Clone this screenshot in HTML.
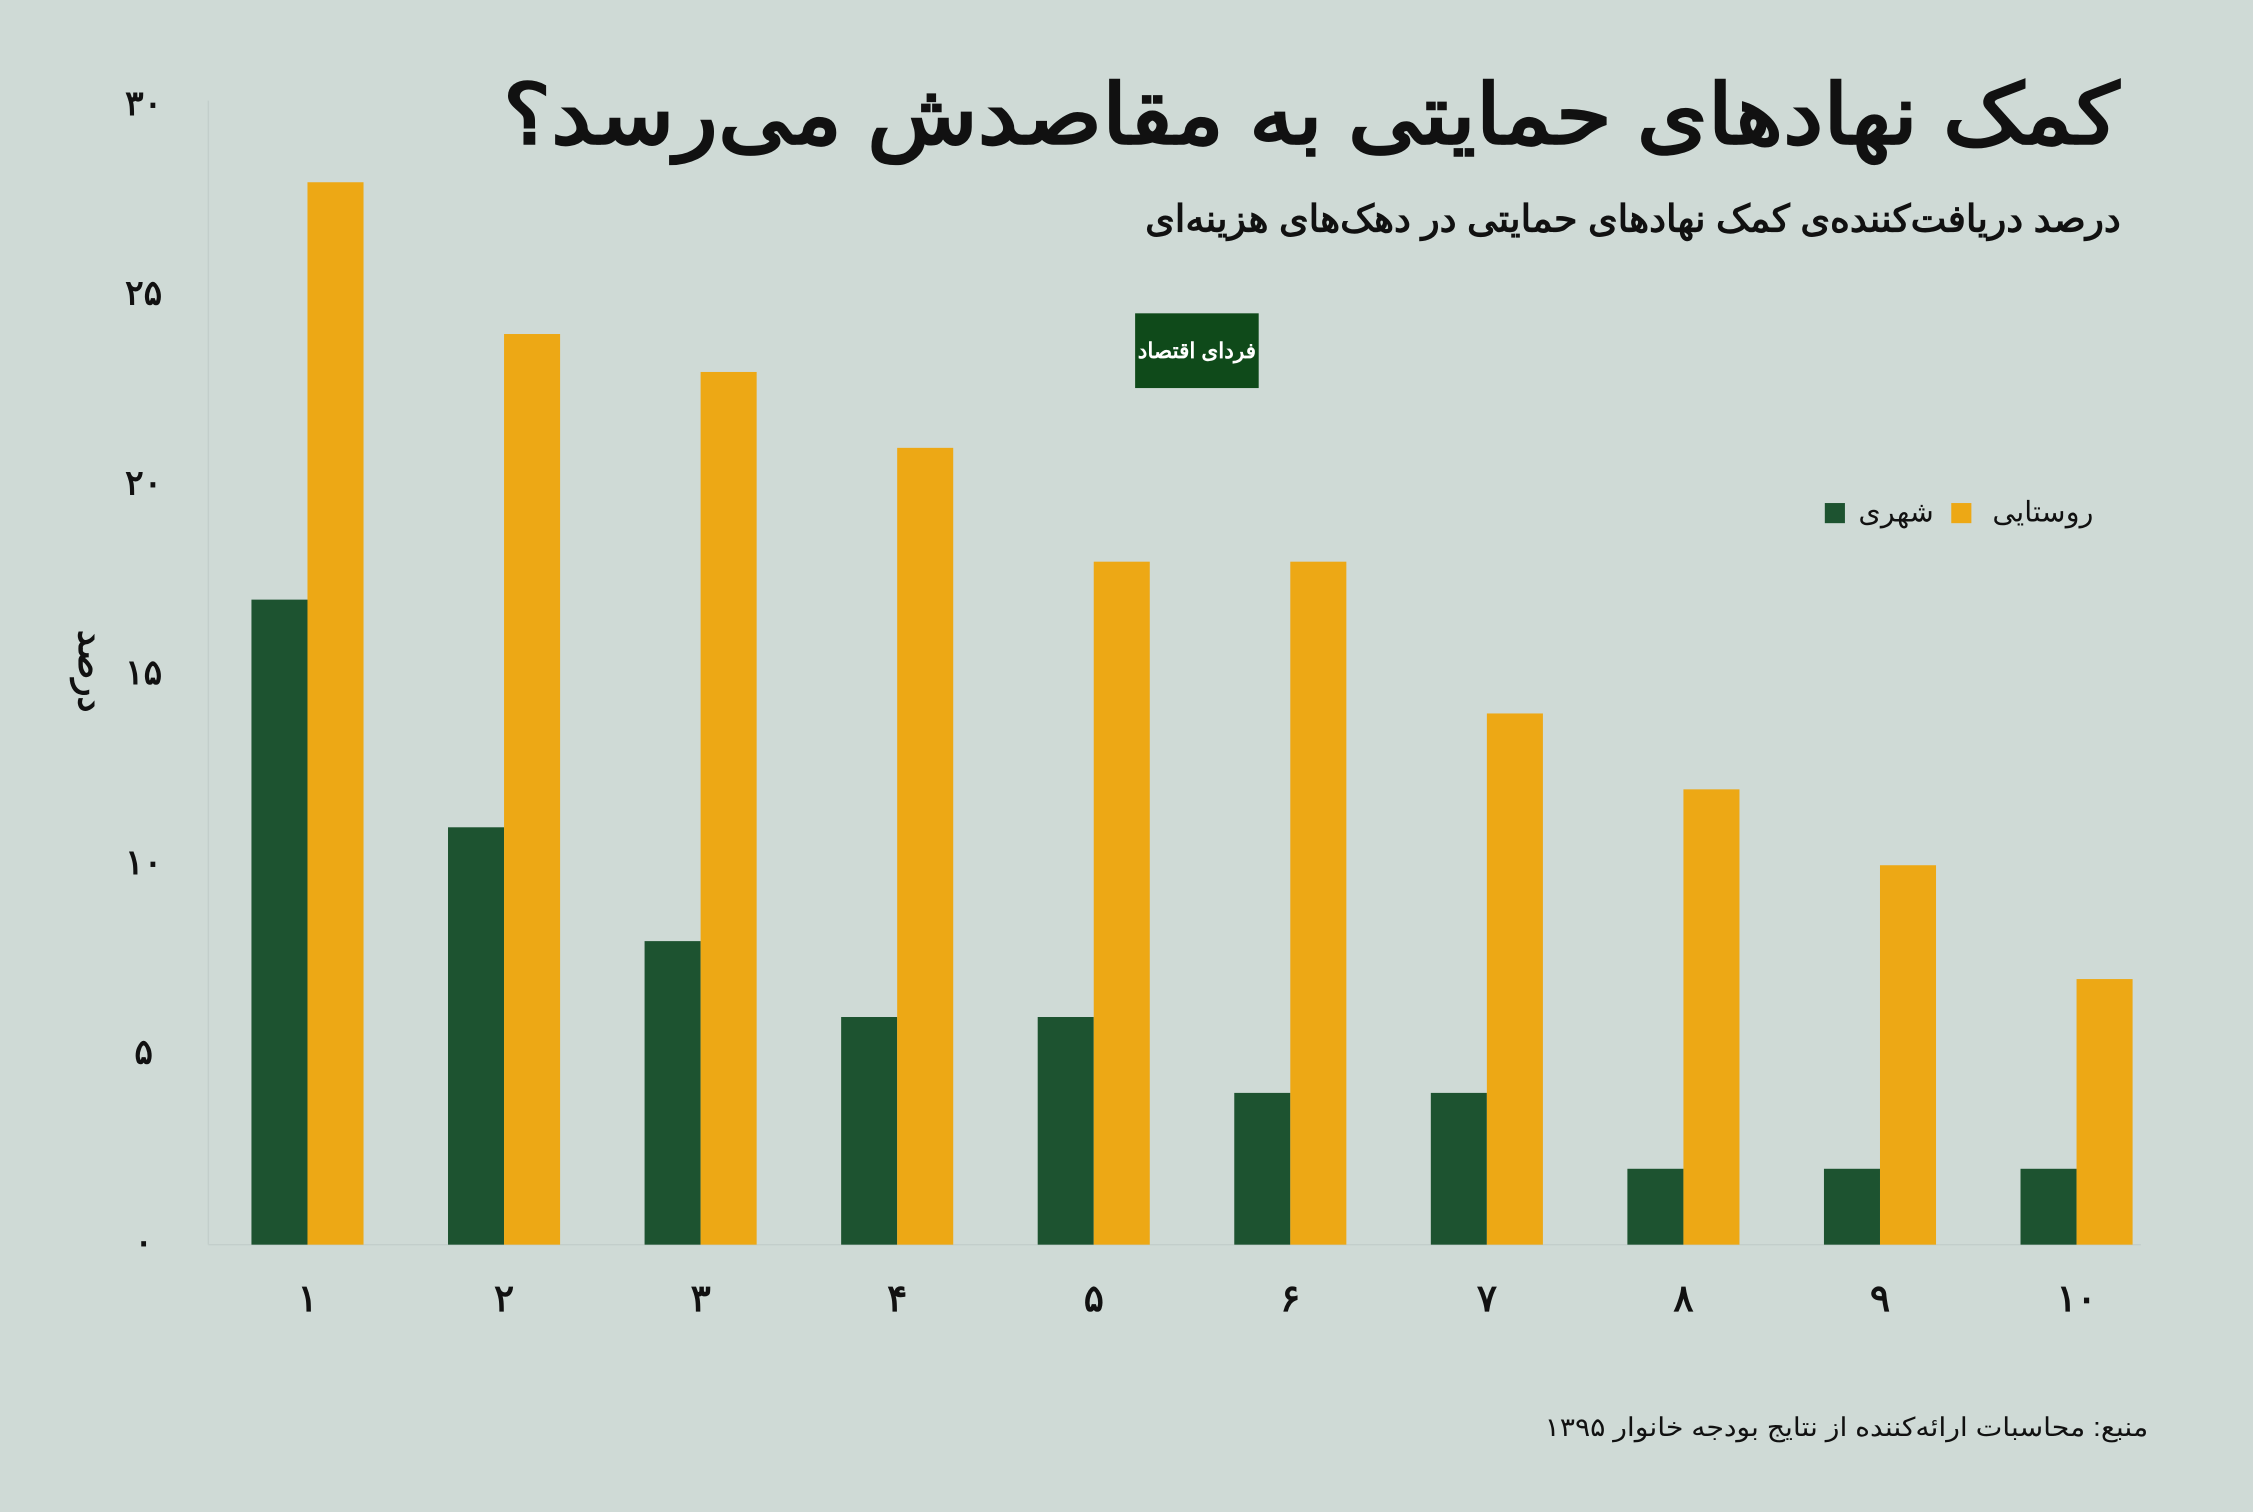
<!DOCTYPE html>
<html><head><meta charset="utf-8"><style>
html,body{margin:0;padding:0;background:#cfdad6;}
svg{display:block;}
text{font-family:"Liberation Sans","Noto Sans CJK SC",sans-serif;}
</style></head><body>
<svg id="chart" width="2253" height="1512" viewBox="0 0 1568 1052" preserveAspectRatio="none" xmlns="http://www.w3.org/2000/svg">
<rect x="0" y="0" width="1568" height="1052" fill="#cfdad6"/>
<text x="350" y="100" textLength="1125" lengthAdjust="spacingAndGlyphs" font-size="58" font-weight="bold" fill="#111">کمک نهادهای حمایتی به مقاصدش می‌رسد؟</text>
<text x="797" y="161" textLength="679" lengthAdjust="spacingAndGlyphs" font-size="26" font-weight="bold" fill="#111">درصد دریافت‌کننده‌ی کمک نهادهای حمایتی در دهک‌های هزینه‌ای</text>
<g>
<rect x="790" y="218" width="86" height="52" fill="#0f4a1a"/>
<text x="833" y="249" text-anchor="middle" font-size="15" font-weight="bold" fill="#fff">فردای اقتصاد</text>
</g>
<line x1="145" y1="70" x2="145" y2="866" stroke="#c3cecb" stroke-width="1"/>
<line x1="145" y1="866" x2="1490" y2="866" stroke="#c3cecb" stroke-width="1"/>
<text transform="translate(55,467) rotate(90)" text-anchor="middle" font-size="25" font-weight="bold" fill="#111">درصد</text>
<g id="yticks"></g>
<g id="bars"></g>
<g id="xlabels"></g>
<g>
<rect x="1358" y="350" width="14" height="14" fill="#eda815"/>
<text x="1457" y="363" text-anchor="end" font-size="20" fill="#111">روستایی</text>
<rect x="1270" y="350" width="14" height="14" fill="#1d5330"/>
<text x="1346" y="363" text-anchor="end" font-size="20" fill="#111">شهری</text>
</g>
<text x="1075" y="999" textLength="420" lengthAdjust="spacingAndGlyphs" font-size="18" fill="#111">منبع: محاسبات ارائه‌کننده از نتایج بودجه خانوار ۱۳۹۵</text>
</svg>
<script>
const categories = ['۱','۲','۳','۴','۵','۶','۷','۸','۹','۱۰'];
const urbanValues = [17, 11, 8, 6, 6, 4, 4, 2, 2, 2];
const ruralValues = [28, 24, 23, 21, 18, 18, 14, 12, 10, 7];
const yTickValues = [0, 5, 10, 15, 20, 25, 30];
const yTickLabels = ['۰','۵','۱۰','۱۵','۲۰','۲۵','۳۰'];

const NS = 'http://www.w3.org/2000/svg';
const y0 = 866, yTop = 74, yMax = 30;
function yScale(v){ return y0 - (v / yMax) * (y0 - yTop); }
const groupStart = 175, groupStep = 136.8, barW = 39;
function xScale(i){ return groupStart + i * groupStep; }

const yt = document.getElementById('yticks');
yTickValues.forEach((v, i) => {
  const t = document.createElementNS(NS, 'text');
  
  
  t.setAttribute('x', 100);
  t.setAttribute('y', yScale(v) + 6);
  t.setAttribute('text-anchor', 'middle');
  t.setAttribute('font-size', '24');
  t.setAttribute('font-weight', 'bold');
  t.setAttribute('fill', '#111');
  t.textContent = yTickLabels[i];
  yt.appendChild(t);
});

const bars = document.getElementById('bars');
const xl = document.getElementById('xlabels');
categories.forEach((c, i) => {
  const x = xScale(i);
  const g = document.createElementNS(NS, 'rect');
  
  
  g.setAttribute('x', x);
  g.setAttribute('y', yScale(urbanValues[i]));
  g.setAttribute('width', barW);
  g.setAttribute('height', y0 - yScale(urbanValues[i]));
  g.setAttribute('fill', '#1d5330');
  bars.appendChild(g);
  const r = document.createElementNS(NS, 'rect');
  
  
  r.setAttribute('x', x + barW);
  r.setAttribute('y', yScale(ruralValues[i]));
  r.setAttribute('width', barW);
  r.setAttribute('height', y0 - yScale(ruralValues[i]));
  r.setAttribute('fill', '#eda815');
  bars.appendChild(r);
  const t = document.createElementNS(NS, 'text');
  
  
  t.setAttribute('x', x + barW);
  t.setAttribute('y', 912);
  t.setAttribute('text-anchor', 'middle');
  t.setAttribute('font-size', '26');
  t.setAttribute('font-weight', 'bold');
  t.setAttribute('fill', '#111');
  t.textContent = c;
  xl.appendChild(t);
});
</script>
</body></html>
